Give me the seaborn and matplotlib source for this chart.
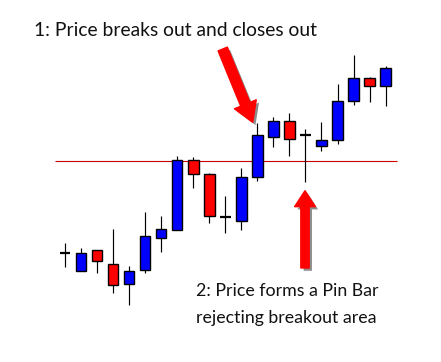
import numpy as np
import pandas as pd
import matplotlib
matplotlib.use("Agg")
import matplotlib.pyplot as plt
import matplotlib.patheffects as pe
import seaborn as sns

# ---- data (price units) ----
opens  = [109.3, 90.7, 112.0, 97.7, 77.7, 91.7, 124.3, 132.3, 201.7, 187.7, 144.7,
          140.7, 184.7, 225.3, 241.0, 227.3, 216.3, 221.7, 261.3, 283.7, 275.7]
highs  = [119.3, 114.0, 112.0, 133.0, 96.0, 150.0, 146.0, 206.0, 205.3, 188.7, 166.0,
          194.0, 239.0, 245.0, 249.0, 233.0, 240.3, 278.3, 307.0, 285.0, 296.0]
lows   = [95.3, 90.7, 88.7, 69.3, 57.3, 89.3, 110.3, 132.3, 174.3, 139.3, 128.7,
          132.0, 181.3, 215.3, 206.3, 180.3, 211.3, 218.3, 257.3, 260.3, 256.3]
closes = [109.3, 108.7, 100.7, 76.7, 90.7, 125.7, 133.0, 201.7, 187.7, 145.7, 144.7,
          184.7, 226.7, 241.0, 222.7, 227.3, 221.7, 261.0, 283.7, 275.7, 294.0]
breakout_level = 200.7
label_1 = "1: Price breaks out and closes out"
label_2_lines = ["2: Price forms a Pin Bar", "rejecting breakout area"]

df = pd.DataFrame({"open": opens, "high": highs, "low": lows, "close": closes})
df["idx"] = np.arange(len(df))

sns.set_style("white")
plt.rcParams["font.family"] = ["Lato", "DejaVu Sans"]

W, H = 441, 362
fig = plt.figure(figsize=(W / 100, H / 100), dpi=100)
ax = fig.add_axes([0, 0, 1, 1])
step = 16.03
x0 = 65.0
ax.set_xlim(-x0 / step, (W - x0) / step)
ax.set_ylim(0, H)
ax.axis("off")

# breakout level line
ax.hlines(breakout_level, -0.62, 20.7, color="#cc0000", lw=0.8, zorder=1)

body_w = 0.66
for _, r in df.iterrows():
    i = r["idx"]
    ax.vlines(i, r["low"], r["high"], color="black", lw=0.85, zorder=2)
    if abs(r["close"] - r["open"]) < 0.5:
        ax.hlines(r["open"], i - body_w / 2, i + body_w / 2, color="black", lw=1.6, zorder=3)
    else:
        col = "#0000ff" if r["close"] > r["open"] else "#ff0000"
        ax.bar(i, abs(r["close"] - r["open"]), bottom=min(r["open"], r["close"]),
               width=body_w, color=col, edgecolor="black", linewidth=1.0, zorder=3)

# arrows (figure pixel coords)
shadow = [pe.SimplePatchShadow(offset=(2, -2), shadow_rgbFace="0.25", alpha=0.6), pe.Normal()]
ax.annotate("", xy=(252.7, H - 122.3), xytext=(222.7, H - 49),
            xycoords="figure pixels", textcoords="figure pixels",
            arrowprops=dict(arrowstyle="simple,head_width=1.7,head_length=1.4,tail_width=0.72",
                            fc="#ff0000", ec="#ff0000", shrinkA=0, shrinkB=0,
                            path_effects=shadow))
ax.annotate("", xy=(305, H - 190.7), xytext=(305, H - 268),
            xycoords="figure pixels", textcoords="figure pixels",
            arrowprops=dict(arrowstyle="simple,head_width=1.5,head_length=1.15,tail_width=0.6",
                            fc="#ff0000", ec="#ff0000", shrinkA=0, shrinkB=0,
                            path_effects=shadow))

fig.text(34 / W, 1 - 36 / H, label_1, fontsize=13.9, color="#111111", va="baseline", ha="left")
for k, line in enumerate(label_2_lines):
    fig.text(196 / W, 1 - (296 + 26.7 * k) / H, line, fontsize=12.8, color="#111111",
             va="baseline", ha="left")

fig.savefig("out.png", dpi=100, facecolor="white")
